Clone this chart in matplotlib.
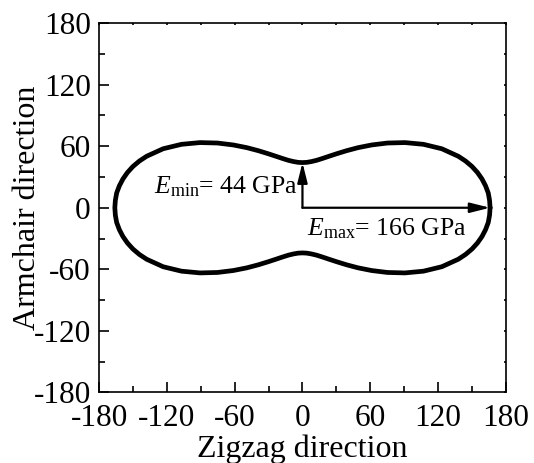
import numpy as np
import matplotlib
matplotlib.use("Agg")
import matplotlib.pyplot as plt
from matplotlib.ticker import MultipleLocator

# ---- data: Young's modulus vs. in-plane angle, first quadrant ----
angle_deg = [0, 2.5, 5, 7.5, 10, 12.5, 15, 17.5, 20, 25, 30, 35, 40, 45,
             50, 55, 60, 65, 70, 75, 80, 85, 90]
modulus_gpa = [166, 165.7, 165, 163.4, 161.3, 158.6, 155.3, 151.3, 146.7, 136, 123.6,
               110.7, 98.1, 86.5, 76.4, 67.8, 60.8, 55.3, 51.0, 47.8, 45.7, 44.4, 44]
e_min = 44
e_max = 166
ticks = [-180, -120, -60, 0, 60, 120, 180]
xlabel = "Zigzag direction"
ylabel = "Armchair direction"

plt.rcParams['font.family'] = ['Liberation Serif', 'DejaVu Serif']
plt.rcParams['mathtext.fontset'] = 'custom'
plt.rcParams['mathtext.rm'] = 'Liberation Serif'
plt.rcParams['mathtext.it'] = 'Liberation Serif:italic'
plt.rcParams['axes.unicode_minus'] = False

# full closed curve via the orthotropic symmetry (mirror the quadrant)
th_q = np.radians(angle_deg)
E_q = np.array(modulus_gpa, dtype=float)
th = np.concatenate([th_q, np.pi - th_q[::-1][1:], np.pi + th_q[1:], 2 * np.pi - th_q[::-1][1:]])
E = np.concatenate([E_q, E_q[::-1][1:], E_q[1:], E_q[::-1][1:]])
x = E * np.cos(th)
y = E * np.sin(th)

fig = plt.figure(figsize=(5.34, 4.63), dpi=100)
ax = fig.add_axes([0.1854, 0.1523, 0.762, 0.798])

ax.plot(x, y, color='black', lw=3.4, solid_joinstyle='round', solid_capstyle='round')

arrow_kw = dict(arrowstyle='-|>,head_length=0.6,head_width=0.15', lw=1.6, color='black',
                shrinkA=0, shrinkB=0, mutation_scale=20)
ax.annotate('', xy=(e_max, 0), xytext=(0, 0), arrowprops=arrow_kw)
ax.annotate('', xy=(0, e_min), xytext=(0, 0), arrowprops=arrow_kw)

ax.text(-4.5, 14.0, r'$E_{\rm min}$= %d GPa' % e_min, ha='right', va='baseline', fontsize=18.5)
ax.text(4.0, -26.5, r'$E_{\rm max}$= %d GPa' % e_max, ha='left', va='baseline', fontsize=18.5)

ax.set_xlim(-180, 180)
ax.set_ylim(-180, 180)
ax.set_xticks(ticks)
ax.set_yticks(ticks)
ax.set_xticklabels([str(t) for t in ticks])
ax.set_yticklabels([str(t) for t in ticks])
ax.xaxis.set_minor_locator(MultipleLocator(30))
ax.yaxis.set_minor_locator(MultipleLocator(30))

for s in ax.spines.values():
    s.set_linewidth(1.2)

ax.tick_params(which='both', direction='in', width=1.2, labelsize=22.5,
               top=True, right=True)
ax.tick_params(which='major', length=7.2, pad=6)
ax.tick_params(which='minor', length=4.3)
ax.tick_params(axis='x', which='major', pad=8)
# very short ticks on top/right spines
for tl in ax.xaxis.get_major_ticks() + ax.xaxis.get_minor_ticks():
    tl.tick2line.set_markersize(1.5)
for tl in ax.yaxis.get_major_ticks() + ax.yaxis.get_minor_ticks():
    tl.tick2line.set_markersize(1.5)

ax.set_xlabel(xlabel, fontsize=23)
ax.set_ylabel(ylabel, fontsize=23)
ax.xaxis.set_label_coords(0.5, -0.114)
ax.yaxis.set_label_coords(-0.14, 0.5)

fig.savefig('out.png', dpi=100)
